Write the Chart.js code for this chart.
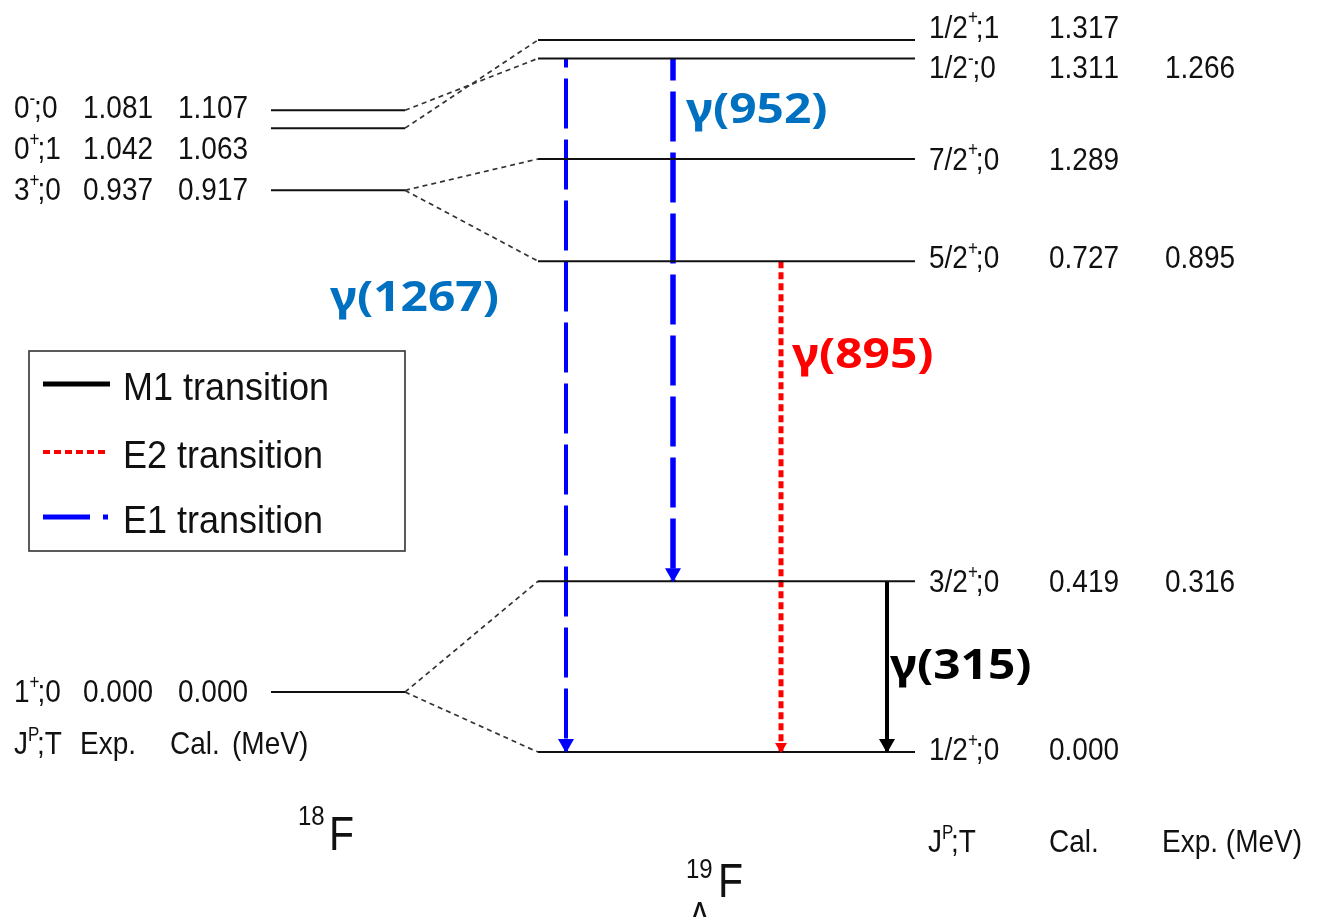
<!DOCTYPE html>
<html lang="en">
<head>
<meta charset="UTF-8">
<title>Level scheme of 19-Lambda-F</title>
<script src="https://cdn.jsdelivr.net/npm/chart.js"></script>
<style>
  body { margin: 0; background: #fff; }
  canvas { display: block; }
</style>
</head>
<body>
<canvas id="scheme" width="1317" height="917"></canvas>
<script>
// 18F core levels, top to bottom ("^" puts the next character up as a superscript)
const coreSpin = ['0^-;0', '0^+;1', '3^+;0', '1^+;0'];
const coreExp = ['1.081', '1.042', '0.937', '0.000'];
const coreCal = ['1.107', '1.063', '0.917', '0.000'];
const coreHeight = [1.187, 1.154, 1.039, 0.111];   // where each line sits in the scheme

// hypernucleus levels, top to bottom
const hyperSpin = ['1/2^+;1', '1/2^-;0', '7/2^+;0', '5/2^+;0', '3/2^+;0', '1/2^+;0'];
const hyperCal = ['1.317', '1.311', '1.289', '0.727', '0.419', '0.000'];
const hyperExp = ['', '1.266', '', '0.895', '0.316', ''];
const hyperHeight = [1.317, 1.283, 1.097, 0.908, 0.316, 0.000];
const hyperCore = [1, 0, 2, 2, 3, 3];               // 18F level each one is built on

// gamma transitions between hypernucleus levels
const gammaName = ['γ(1267)', 'γ(952)', 'γ(895)', 'γ(315)'];
const gammaType = ['E1', 'E1', 'E2', 'M1'];
const gammaFrom = [1, 1, 3, 4];
const gammaTo = [5, 4, 5, 5];

// layout
const CORE_X = [271, 405];
const HYPER_X = [538, 915];
const GAMMA_X = [566, 673, 781, 887];
const GAMMA_WIDTH = [4, 5.5, 5, 4];
const GAMMA_PHASE = [41, 28, 0, 0];
const GAMMA_LABEL_POS = [[330, 311], [686, 123], [792, 368], [890, 679]];
const CORE_TEXT_DY = [8, 31, 10, 10];
const HYPER_TEXT_DY = [-2, 20, 11, 7, 11, 8];

const TYPE_STYLE = {
  E1: { color: '#0000ff', dash: [50, 11], label: '#0070c0' },
  E2: { color: '#ff0000', dash: [7, 4], label: '#ff0000' },
  M1: { color: '#000000', dash: [], label: '#000000' }
};
const TEXT = '#111111';
const SANS = '"Liberation Sans", Arial, sans-serif';

const datasets = [];
function segment(points, color, width, dash, phase) {
  datasets.push({
    data: points,
    showLine: true,
    borderColor: color,
    borderWidth: width,
    borderDash: dash || [],
    borderDashOffset: phase || 0,
    borderCapStyle: 'butt',
    pointRadius: 0,
    fill: false,
    tension: 0
  });
}

coreHeight.forEach(h => segment([{ x: CORE_X[0], y: h }, { x: CORE_X[1], y: h }], '#111', 2));
hyperHeight.forEach(h => segment([{ x: HYPER_X[0], y: h }, { x: HYPER_X[1], y: h }], '#111', 2));
hyperCore.forEach((c, i) => segment(
  [{ x: CORE_X[1], y: coreHeight[c] }, { x: HYPER_X[0], y: hyperHeight[i] }],
  '#333', 1.7, [5, 4]));
gammaFrom.forEach((f, i) => {
  const st = TYPE_STYLE[gammaType[i]];
  segment([{ x: GAMMA_X[i], y: hyperHeight[f] }, { x: GAMMA_X[i], y: hyperHeight[gammaTo[i]] }],
    st.color, GAMMA_WIDTH[i], st.dash, GAMMA_PHASE[i]);
});

// text with "^x" superscripts, stretched vertically like the original figure
function rich(ctx, str, x, y, size, sy) {
  ctx.save();
  ctx.translate(x, y);
  ctx.scale(1, sy || 1.15);
  ctx.textBaseline = 'alphabetic';
  let cx = 0;
  for (let i = 0; i < str.length; i++) {
    if (str[i] === '^') {
      const ch = str[i + 1];
      ctx.font = Math.round(size * 0.6) + 'px ' + SANS;
      ctx.fillText(ch, cx, -size * 0.42);
      cx += ctx.measureText(ch).width * 0.8;
      i++;
    } else {
      ctx.font = size + 'px ' + SANS;
      ctx.fillText(str[i], cx, 0);
      cx += ctx.measureText(str[i]).width;
    }
  }
  ctx.restore();
}

function arrowHead(ctx, x, y, half, len, color) {
  ctx.beginPath();
  ctx.moveTo(x, y + 1);
  ctx.lineTo(x - half, y + 1 - len);
  ctx.lineTo(x + half, y + 1 - len);
  ctx.closePath();
  ctx.fillStyle = color;
  ctx.fill();
}

function legendLine(ctx, x0, x1, y, style, dash, width) {
  ctx.save();
  ctx.strokeStyle = style;
  ctx.lineWidth = width;
  ctx.setLineDash(dash);
  ctx.beginPath();
  ctx.moveTo(x0, y);
  ctx.lineTo(x1, y);
  ctx.stroke();
  ctx.restore();
}

const annotations = {
  id: 'annotations',
  afterDatasetsDraw(chart) {
    const { ctx, scales: { x, y } } = chart;
    ctx.save();
    ctx.fillStyle = TEXT;

    // 18F level labels
    coreSpin.forEach((s, i) => {
      const by = y.getPixelForValue(coreHeight[i]) + CORE_TEXT_DY[i];
      rich(ctx, s, 14, by, 28);
      rich(ctx, coreExp[i], 83, by, 28);
      rich(ctx, coreCal[i], 178, by, 28);
    });
    const coreHead = y.getPixelForValue(coreHeight[3]) + 62;
    rich(ctx, 'J^P;T', 14, coreHead, 28);
    rich(ctx, 'Exp.', 80, coreHead, 28);
    rich(ctx, 'Cal.', 170, coreHead, 28);
    rich(ctx, '(MeV)', 232, coreHead, 28);

    // hypernucleus level labels
    hyperSpin.forEach((s, i) => {
      const by = y.getPixelForValue(hyperHeight[i]) + HYPER_TEXT_DY[i];
      rich(ctx, s, 929, by, 28);
      rich(ctx, hyperCal[i], 1049, by, 28);
      if (hyperExp[i]) rich(ctx, hyperExp[i], 1165, by, 28);
    });
    const hyperHead = y.getPixelForValue(hyperHeight[5]) + 100;
    rich(ctx, 'J^P;T', 928, hyperHead, 28);
    rich(ctx, 'Cal.', 1049, hyperHead, 28);
    rich(ctx, 'Exp. (MeV)', 1162, hyperHead, 28);

    // nucleus names
    rich(ctx, '18', 298, 825, 24);
    rich(ctx, 'F', 329, 850, 41);
    rich(ctx, '19', 686, 878, 24);
    rich(ctx, 'F', 718, 897, 41);
    rich(ctx, 'Λ', 689, 928, 32);

    // arrowheads on the lower level of each transition
    gammaTo.forEach((t, i) => {
      const px = x.getPixelForValue(GAMMA_X[i]);
      const py = y.getPixelForValue(hyperHeight[t]);
      const st = TYPE_STYLE[gammaType[i]];
      if (gammaType[i] === 'E2') arrowHead(ctx, px, py, 6, 10, st.color);
      else arrowHead(ctx, px, py, 8, 14, st.color);
    });

    // transition energies
    gammaName.forEach((g, i) => {
      const [lx, ly] = GAMMA_LABEL_POS[i];
      ctx.save();
      ctx.translate(lx, ly);
      ctx.scale(1.14, 1);
      ctx.font = 'bold 42px "Noto Sans", sans-serif';
      ctx.fillStyle = TYPE_STYLE[gammaType[i]].label;
      ctx.fillText(g, 0, 0);
      ctx.restore();
    });

    // legend box
    ctx.strokeStyle = '#333';
    ctx.lineWidth = 1.6;
    ctx.strokeRect(29, 351, 376, 200);
    legendLine(ctx, 43, 110, 384, '#000', [], 5);
    legendLine(ctx, 43, 108, 452, '#ff0000', [7, 4], 4);
    legendLine(ctx, 43, 110, 517, '#0000ff', [47, 13, 5, 100], 5);
    ctx.fillStyle = TEXT;
    rich(ctx, 'M1 transition', 123, 400, 36, 1.1);
    rich(ctx, 'E2 transition', 123, 468, 36, 1.1);
    rich(ctx, 'E1 transition', 123, 533, 36, 1.1);
    ctx.restore();
  }
};

new Chart(document.getElementById('scheme'), {
  type: 'scatter',
  data: { datasets },
  options: {
    responsive: false,
    animation: false,
    events: [],
    layout: { padding: 0 },
    scales: {
      x: { type: 'linear', min: 0, max: 1317, display: false },
      y: { type: 'linear', min: -0.305, max: 1.391, display: false }
    },
    plugins: {
      legend: { display: false },
      tooltip: { enabled: false }
    }
  },
  plugins: [annotations]
});
</script>
</body>
</html>
